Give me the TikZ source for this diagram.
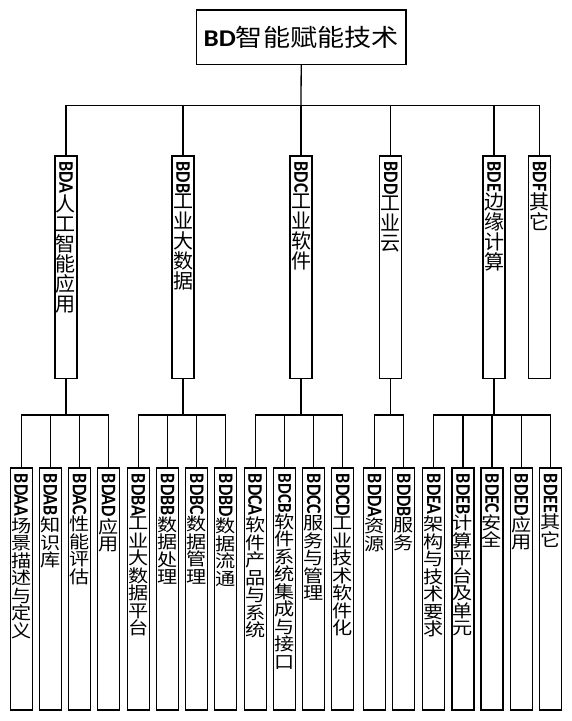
\documentclass[tikz,border=0pt]{standalone}
\usepackage{graphicx}
\usepackage{fontspec}
\setmainfont{Carlito}
\newfontfamily\cjkA[Kerning=Off]{Noto Sans CJK SC}
\newfontfamily\cjkB[FakeStretch=1.15,Kerning=Off]{Noto Sans CJK SC}
\newcommand\latv[2]{\rotatebox{-90}{\scalebox{1}[1.15]{\fontsize{#1}{#1}\selectfont\rmfamily\bfseries #2}}}
\newcommand\cb[1]{\makebox[1em]{#1}}
\begin{document}
\begin{tikzpicture}[x=1pt, y=-1pt, line width=1.3pt,
  rootbox/.style={draw, minimum width=209.7pt, minimum height=54.4pt, inner sep=0},
  lvtwo/.style={draw, minimum width=22pt, minimum height=222.3pt, inner sep=0, anchor=north},
  lvthree/.style={draw, minimum width=22pt, minimum height=242pt, inner sep=0, anchor=north},
  ttwo/.style={anchor=north, inner sep=0, align=center, font=\cjkA\fontsize{20}{20}\selectfont},
  tthree/.style={anchor=north, inner sep=0, align=center, font=\cjkB\fontsize{17.5}{17.5}\selectfont}]
\useasboundingbox (0,0) rectangle (572,721);

% root
\node[rootbox] (root) at (301.2,37.2) {\scalebox{1.13}[1]{\fontsize{24}{24}\selectfont\bfseries BD\cjkA\mdseries\cb{智}\cb{能}\cb{赋}\cb{能}\cb{技}\cb{术}}};

% level two boxes
\node[lvtwo] (BDA) at (66,155.2) {};
\node[lvtwo] (BDB) at (183,155.2) {};
\node[lvtwo] (BDC) at (301,155.2) {};
\node[lvtwo] (BDD) at (390.8,155.2) {};
\node[lvtwo] (BDE) at (494,155.2) {};
\node[lvtwo] (BDF) at (539.5,155.2) {};

\node[ttwo] (tBDA) at ([yshift=-6pt]BDA.north) {\latv{18}{BDA}\\人\\工\\智\\能\\应\\用};
\node[ttwo] (tBDB) at ([yshift=-6pt]BDB.north) {\latv{18}{BDB}\\工\\业\\大\\数\\据};
\node[ttwo] (tBDC) at ([yshift=-6pt]BDC.north) {\latv{18}{BDC}\\工\\业\\软\\件};
\node[ttwo] (tBDD) at ([yshift=-6pt]BDD.north) {\latv{18}{BDD}\\工\\业\\云};
\node[ttwo] (tBDE) at ([yshift=-6pt]BDE.north) {\latv{18}{BDE}\\边\\缘\\计\\算};
\node[ttwo] (tBDF) at ([yshift=-6pt]BDF.north) {\latv{18}{BDF}\\其\\它};

% level three boxes
\node[lvthree] (BDAA) at (21.2,467.3) {};
\node[lvthree] (BDAB) at (50.3,467.3) {};
\node[lvthree] (BDAC) at (79.5,467.3) {};
\node[lvthree] (BDAD) at (108.7,467.3) {};
\node[lvthree] (BDBA) at (138.4,467.3) {};
\node[lvthree] (BDBB) at (167.5,467.3) {};
\node[lvthree] (BDBC) at (196.8,467.3) {};
\node[lvthree] (BDBD) at (225.8,467.3) {};
\node[lvthree] (BDCA) at (255.2,467.3) {};
\node[lvthree] (BDCB) at (284.7,467.3) {};
\node[lvthree] (BDCC) at (313.8,467.3) {};
\node[lvthree] (BDCD) at (342.8,467.3) {};
\node[lvthree] (BDDA) at (374.7,467.3) {};
\node[lvthree] (BDDB) at (403.8,467.3) {};
\node[lvthree] (BDEA) at (433.8,467.3) {};
\node[lvthree] (BDEB) at (463,467.3) {};
\node[lvthree] (BDEC) at (492,467.3) {};
\node[lvthree] (BDED) at (521.3,467.3) {};
\node[lvthree] (BDEE) at (550.7,467.3) {};

\node[tthree] (tBDAA) at ([yshift=-6pt]BDAA.north) {\latv{18}{BDAA}\\场\\景\\描\\述\\与\\定\\义};
\node[tthree] (tBDAB) at ([yshift=-6pt]BDAB.north) {\latv{18}{BDAB}\\知\\识\\库};
\node[tthree] (tBDAC) at ([yshift=-6pt]BDAC.north) {\latv{18}{BDAC}\\性\\能\\评\\估};
\node[tthree] (tBDAD) at ([yshift=-6pt]BDAD.north) {\latv{18}{BDAD}\\应\\用};
\node[tthree] (tBDBA) at ([yshift=-6pt]BDBA.north) {\latv{18}{BDBA}\\工\\业\\大\\数\\据\\平\\台};
\node[tthree] (tBDBB) at ([yshift=-6pt]BDBB.north) {\latv{18}{BDBB}\\数\\据\\处\\理};
\node[tthree] (tBDBC) at ([yshift=-6pt]BDBC.north) {\latv{18}{BDBC}\\数\\据\\管\\理};
\node[tthree] (tBDBD) at ([yshift=-6pt]BDBD.north) {\latv{18}{BDBD}\\数\\据\\流\\通};
\node[tthree] (tBDCA) at ([yshift=-6pt]BDCA.north) {\latv{18}{BDCA}\\软\\件\\产\\品\\与\\系\\统};
\node[tthree] (tBDCB) at ([yshift=-6pt]BDCB.north) {\latv{17}{BDCB}\\软\\件\\系\\统\\集\\成\\与\\接\\口};
\node[tthree] (tBDCC) at ([yshift=-6pt]BDCC.north) {\latv{18}{BDCC}\\服\\务\\与\\管\\理};
\node[tthree] (tBDCD) at ([yshift=-6pt]BDCD.north) {\latv{18}{BDCD}\\工\\业\\技\\术\\软\\件\\化};
\node[tthree] (tBDDA) at ([yshift=-6pt]BDDA.north) {\latv{18}{BDDA}\\资\\源};
\node[tthree] (tBDDB) at ([yshift=-6pt]BDDB.north) {\latv{18}{BDDB}\\服\\务};
\node[tthree] (tBDEA) at ([yshift=-6pt]BDEA.north) {\latv{18}{BDEA}\\架\\构\\与\\技\\术\\要\\求};
\node[tthree] (tBDEB) at ([yshift=-6pt]BDEB.north) {\latv{18}{BDEB}\\计\\算\\平\\台\\及\\单\\元};
\node[tthree] (tBDEC) at ([yshift=-6pt]BDEC.north) {\latv{18}{BDEC}\\安\\全};
\node[tthree] (tBDED) at ([yshift=-6pt]BDED.north) {\latv{18}{BDED}\\应\\用};
\node[tthree] (tBDEE) at ([yshift=-6pt]BDEE.north) {\latv{18}{BDEE}\\其\\它};

% top bus
\coordinate (bus0) at (301,105.5);
\draw (root.south) -- (bus0);
\draw (BDA.north) |- (bus0) -| (BDF.north);
\foreach \n in {BDB,BDC,BDD,BDE} \draw (\n.north) -- (\n.north |- bus0);

% group buses
\coordinate (busA) at (66,415);
\coordinate (busB) at (183,415);
\coordinate (busC) at (301,415);
\coordinate (busD) at (390.8,415);
\coordinate (busE) at (494,415);
\draw (BDA.south) -- (busA);
\draw (BDB.south) -- (busB);
\draw (BDC.south) -- (busC);
\draw (BDD.south) -- (busD);
\draw (BDE.south) -- (busE);
\draw (BDAA.north) |- (busA) -| (BDAD.north);
\draw (BDBA.north) |- (busB) -| (BDBD.north);
\draw (BDCA.north) |- (busC) -| (BDCD.north);
\draw (BDDA.north) |- (busD) -| (BDDB.north);
\draw (BDEA.north) |- (busE) -| (BDEE.north);
\foreach \n/\b in {BDAB/busA,BDAC/busA,BDBB/busB,BDBC/busB,BDCB/busC,BDCC/busC,BDEB/busE,BDEC/busE,BDED/busE}
  \draw (\n.north) -- (\n.north |- \b);
\end{tikzpicture}
\end{document}
